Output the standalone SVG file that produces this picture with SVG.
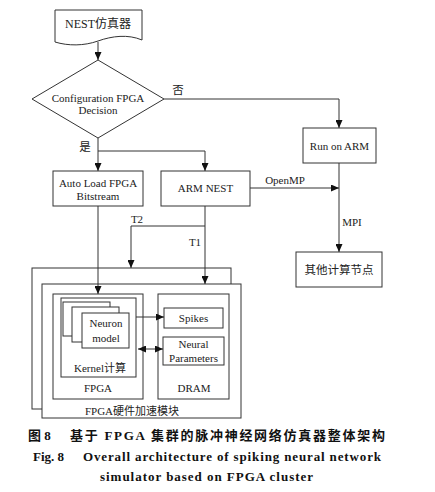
<svg xmlns="http://www.w3.org/2000/svg" width="435" height="492" viewBox="0 0 435 492">
<style>
.b{fill:#fff;stroke:#333;stroke-width:1}
.l{fill:none;stroke:#333;stroke-width:1}
.t{font-family:"Liberation Serif","Noto Sans CJK SC",serif;font-size:11px;fill:#222;text-anchor:middle}
.k{font-size:11.5px}
.c{font-family:"Liberation Serif","Noto Sans CJK SC",serif;font-size:13px;font-weight:bold;fill:#111}
</style>
<defs>
<marker id="ah" markerUnits="userSpaceOnUse" markerWidth="8" markerHeight="7" refX="8" refY="3.5" orient="auto-start-reverse">
<path d="M0,0 L8,3.5 L0,7 Z" fill="#111"/>
</marker>
</defs>
<rect width="435" height="492" fill="#fff"/>
<g id="connectors">
<path class="l" d="M98,42 V60" marker-end="url(#ah)"/>
<path class="l" d="M164,99 H339 V128" marker-end="url(#ah)"/>
<path class="l" d="M98,138 V171" marker-end="url(#ah)"/>
<path class="l" d="M98,151 H205 V171" marker-end="url(#ah)"/>
<path class="l" d="M250,188 H339" marker-end="url(#ah)"/>
<path class="l" d="M339,163 V252" marker-end="url(#ah)"/>
<path class="l" d="M205,226 H131 V268" marker-end="url(#ah)"/>
<text class="t k" x="178" y="94">否</text>
<text class="t k" x="85" y="151">是</text>
<text class="t" x="285" y="184">OpenMP</text>
<text class="t" x="352" y="226">MPI</text>
<text class="t" x="137" y="223">T2</text>
<text class="t" x="195" y="246">T1</text>
</g>
<g id="nest">
<path class="b" d="M55,10 H142 V40 C128,34 112,36 98,41 C84,46 68,46 55,42 Z"/>
<text class="t" x="98" y="28" style="font-size:12px">NEST仿真器</text>
</g>
<g id="decision">
<path class="b" d="M98,60 L164,99 L98,138 L32,99 Z"/>
<text class="t" x="98" y="102">Configuration FPGA</text>
<text class="t" x="98" y="114">Decision</text>
</g>
<g id="run-arm">
<rect class="b" x="303" y="128" width="73" height="35"/>
<text class="t" x="339.5" y="150">Run on ARM</text>
</g>
<g id="autoload">
<rect class="b" x="53" y="171" width="90" height="35"/>
<text class="t" x="98" y="187">Auto Load FPGA</text>
<text class="t" x="98" y="200">Bitstream</text>
</g>
<g id="arm-nest">
<rect class="b" x="161" y="171" width="89" height="35"/>
<text class="t" x="205.5" y="192">ARM NEST</text>
</g>
<g id="other-nodes">
<rect class="b" x="296" y="252" width="86" height="35"/>
<text class="t k" x="339" y="274">其他计算节点</text>
</g>
<g id="fpga-module">
<rect class="b" x="32" y="268" width="199" height="141"/>
<rect class="b" x="42" y="284" width="199" height="134"/>
<text class="t" x="132" y="415">FPGA硬件加速模块</text>
</g>
<g id="connectors-inner">
<path class="l" d="M98,206 V294" marker-end="url(#ah)"/>
<path class="l" d="M205,206 V284" marker-end="url(#ah)"/>
</g>
<g id="fpga">
<rect class="b" x="53" y="294" width="90" height="105"/>
<text class="t" x="98" y="392">FPGA</text>
</g>
<g id="kernel">
<rect class="b" x="61" y="298" width="75" height="79"/>
<rect class="b" x="63" y="302" width="47" height="34"/>
<rect class="b" x="72" y="307" width="47" height="35"/>
<text class="t" x="100" y="372">Kernel计算</text>
</g>
<g id="neuron-model">
<rect class="b" x="82" y="313" width="47" height="35"/>
<text class="t" x="106" y="327">Neuron</text>
<text class="t" x="106" y="342">model</text>
</g>
<g id="dram">
<rect class="b" x="158" y="294" width="71" height="105"/>
<text class="t" x="194" y="392">DRAM</text>
</g>
<g id="spikes">
<rect class="b" x="164" y="308" width="59" height="20"/>
<text class="t" x="193.5" y="322">Spikes</text>
</g>
<g id="neural-params">
<rect class="b" x="163" y="337" width="61" height="28"/>
<text class="t" x="193.5" y="348">Neural</text>
<text class="t" x="193.5" y="362">Parameters</text>
</g>
<g id="connectors-dram">
<path class="l" d="M136,317 H164" marker-end="url(#ah)"/>
<path class="l" d="M138,349 H163" marker-start="url(#ah)" marker-end="url(#ah)"/>
</g>
<g id="caption">
<text class="c" x="28" y="440">图 8</text>
<text class="c" x="70" y="440" textLength="315" lengthAdjust="spacing">基于 FPGA 集群的脉冲神经网络仿真器整体架构</text>
<text class="c" x="33" y="461">Fig. 8</text>
<text class="c" x="83" y="461" textLength="298" lengthAdjust="spacing">Overall architecture of spiking neural network</text>
<text class="c" x="100" y="481" textLength="213" lengthAdjust="spacing">simulator based on FPGA cluster</text>
</g>
</svg>
